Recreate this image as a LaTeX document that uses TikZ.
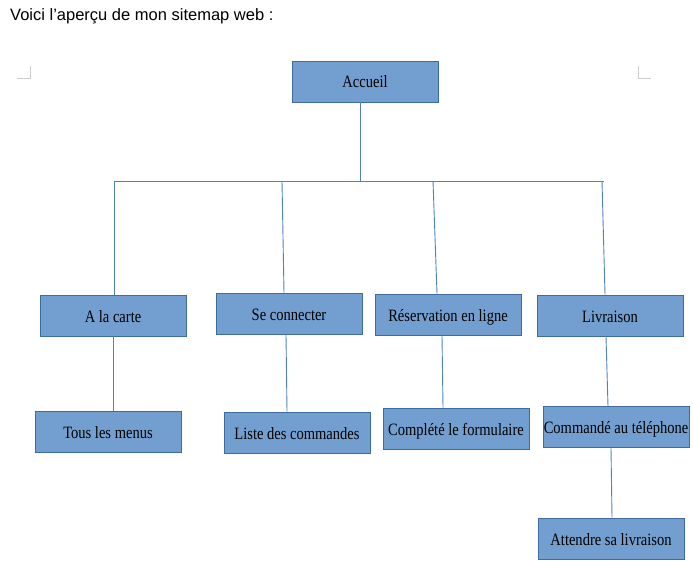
\documentclass[tikz,border=0pt]{standalone}
\usepackage{fontspec}
\setmainfont{Liberation Serif}
\newfontfamily\arialfont{Liberation Sans}
\usepackage{graphicx}
\definecolor{boxfill}{RGB}{114,159,207}
\definecolor{boxline}{RGB}{62,107,160}
\definecolor{linkcol}{RGB}{79,129,189}
\definecolor{markcol}{RGB}{205,205,205}
\newcommand{\sqz}[1]{\scalebox{0.84}[1]{#1}}
\tikzset{
  pagebox/.style={draw=boxline, fill=boxfill, line width=0.9pt, minimum width=146pt, minimum height=41pt, inner sep=0pt,
    font=\fontsize{17.3}{20}\selectfont, text height=14pt, text depth=1pt},
  link/.style={draw=linkcol, line width=0.9pt},
  cornermark/.style={draw=markcol, line width=1pt}
}
\begin{document}
\begin{tikzpicture}[x=1pt,y=-1pt]
\useasboundingbox (0,0) rectangle (693,561);
\node[anchor=base west, font=\arialfont\fontsize{16.5}{19}\selectfont, inner sep=0pt] (title) at (10,21) {Voici l’aperçu de mon sitemap web :};
% corner marks
\draw[cornermark] (17,79) -- (30,79) -- (30,66);
\draw[cornermark] (651,79) -- (638,79) -- (638,66);
% boxes
\node[pagebox] (acc) at (365,81.5) {\sqz{Accueil}};
\node[pagebox] (carte) at (113,315.5) {\sqz{A la carte}};
\node[pagebox] (conn) at (289,313.5) {\sqz{Se connecter}};
\node[pagebox] (resa) at (448,314.5) {\sqz{Réservation en ligne}};
\node[pagebox] (livr) at (610,315.5) {\sqz{Livraison}};
\node[pagebox] (menus) at (108,431.5) {\sqz{Tous les menus}};
\node[pagebox] (liste) at (297,432.5) {\sqz{Liste des commandes}};
\node[pagebox] (form) at (456,428.5) {\sqz{Complété le formulaire}};
\node[pagebox] (tel) at (616,427) {\sqz{Commandé au téléphone}};
\node[pagebox] (att) at (611,538.5) {\sqz{Attendre sa livraison}};
% bus coordinates
\coordinate (hub) at (360,181);
\coordinate (b1) at (114,181);
\coordinate (b2) at (282,181);
\coordinate (b3) at (433,181);
\coordinate (b4) at (604,181);
\draw[link] ([xshift=-5pt]acc.south) -- (hub);
\draw[link] (b1) -- (b4);
\draw[link] (b1) -- ([xshift=1pt]carte.north);
\draw[link] (b2) -- ([xshift=-5pt]conn.north);
\draw[link] (b3) -- ([xshift=-11pt]resa.north);
\draw[link] ([xshift=-2pt]b4) -- ([xshift=-5pt]livr.north);
\draw[link] (carte.south) -- ([xshift=5pt]menus.north);
\draw[link] ([xshift=-3pt]conn.south) -- ([xshift=-10pt]liste.north);
\draw[link] ([xshift=-6pt]resa.south) -- ([xshift=-13pt]form.north);
\draw[link] ([xshift=-4pt]livr.south) -- ([xshift=-8pt]tel.north);
\draw[link] ([xshift=-5pt]tel.south) -- ([xshift=1pt]att.north);
\end{tikzpicture}
\end{document}
